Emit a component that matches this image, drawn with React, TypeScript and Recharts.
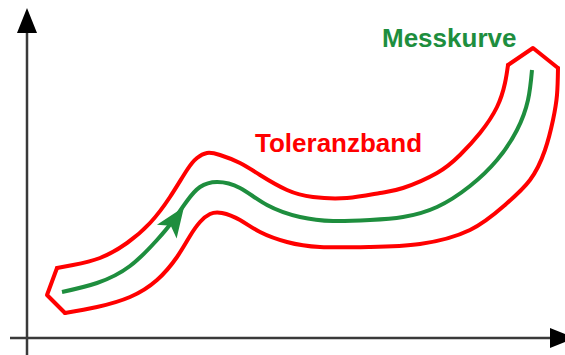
import { ComposedChart, Line, XAxis, YAxis, ReferenceLine, ReferenceDot } from "recharts"

// all points measured from the axis origin (x right, y up)
const messkurve = [
  { x: 35, y: 46 }, { x: 70, y: 55 }, { x: 103, y: 72 }, { x: 130, y: 98 },
  { x: 145, y: 116 }, { x: 160, y: 137 }, { x: 173, y: 151 }, { x: 190, y: 156 },
  { x: 213, y: 150 }, { x: 240, y: 133 }, { x: 273, y: 121 }, { x: 306, y: 117 },
  { x: 343, y: 118 }, { x: 376, y: 121 }, { x: 410, y: 131 }, { x: 443, y: 152 },
  { x: 470, y: 178 }, { x: 490, y: 208 }, { x: 501, y: 238 }, { x: 505, y: 268 },
]

const bandUpper = [
  { x: 30, y: 70 }, { x: 46, y: 73 }, { x: 73, y: 80 }, { x: 100, y: 95 },
  { x: 123, y: 115 }, { x: 143, y: 141 }, { x: 160, y: 168 }, { x: 170, y: 180 },
  { x: 180, y: 185 }, { x: 193, y: 183 }, { x: 213, y: 175 }, { x: 233, y: 163 },
  { x: 260, y: 148 }, { x: 286, y: 141 }, { x: 320, y: 140 }, { x: 353, y: 145 },
  { x: 376, y: 150 }, { x: 410, y: 165 }, { x: 433, y: 183 }, { x: 453, y: 205 },
  { x: 470, y: 231 }, { x: 478, y: 255 }, { x: 481, y: 273 },
]

const bandRightCap = [{ x: 481, y: 273 }, { x: 506, y: 290 }, { x: 531, y: 270 }]

const bandLower = [
  { x: 531, y: 270 }, { x: 530, y: 243 }, { x: 526, y: 218 }, { x: 518, y: 188 },
  { x: 503, y: 158 }, { x: 478, y: 133 }, { x: 443, y: 108 }, { x: 393, y: 94 },
  { x: 343, y: 91 }, { x: 293, y: 91 }, { x: 260, y: 96 }, { x: 233, y: 106 },
  { x: 213, y: 118 }, { x: 195, y: 125 }, { x: 183, y: 124 }, { x: 173, y: 116 },
  { x: 163, y: 102 }, { x: 150, y: 81 }, { x: 130, y: 58 }, { x: 103, y: 41 },
  { x: 70, y: 31 }, { x: 38, y: 25 },
]

const bandLeftCap = [{ x: 38, y: 25 }, { x: 20, y: 43 }, { x: 30, y: 70 }]

const arrowTip = { x: 157, y: 131 }

const RED = "#ff0000"
const GREEN = "#1e8e3e"
const AXIS = "#3a3a3a"

function AxisArrow(props: any) {
  const { x1, y1, x2, y2 } = props
  const ang = Math.atan2(y2 - y1, x2 - x1)
  const len = 25
  const hw = 10
  const bx = x2 - Math.cos(ang) * len
  const by = y2 - Math.sin(ang) * len
  const px = -Math.sin(ang) * hw
  const py = Math.cos(ang) * hw
  return (
    <g>
      <line x1={x1} y1={y1} x2={bx} y2={by} stroke={AXIS} strokeWidth={2.5} />
      <polygon points={`${x2},${y2} ${bx + px},${by + py} ${bx - px},${by - py}`} fill="#000" />
    </g>
  )
}

function CurveArrow(props: any) {
  const { cx, cy } = props
  return (
    <polygon
      points="0,0 -30,-12 -23,0 -30,12"
      fill={GREEN}
      transform={`translate(${cx},${cy}) rotate(-55)`}
    />
  )
}

const textStyle = { fontFamily: "'Liberation Sans', Arial, sans-serif", fontWeight: 700, fontSize: 26 }

export default function App() {
  return (
    <div style={{ position: "absolute", left: 0, top: 0, background: "#fff" }}>
      <ComposedChart width={565} height={355} margin={{ top: 10, right: 2, bottom: 17, left: 27 }}>
        <XAxis type="number" dataKey="x" domain={[0, 536]} allowDataOverflow hide />
        <YAxis type="number" dataKey="y" domain={[0, 328]} allowDataOverflow hide />
        <ReferenceLine segment={[{ x: -17, y: 0 }, { x: 548, y: 0 }]} ifOverflow="visible" shape={AxisArrow} />
        <ReferenceLine segment={[{ x: 0, y: -17 }, { x: 0, y: 330 }]} ifOverflow="visible" shape={AxisArrow} />
        <Line data={bandUpper} dataKey="y" type="natural" stroke={RED} strokeWidth={4} strokeLinecap="round" dot={false} isAnimationActive={false} />
        <Line data={bandRightCap} dataKey="y" type="linear" stroke={RED} strokeWidth={4} strokeLinecap="round" strokeLinejoin="round" dot={false} isAnimationActive={false} />
        <Line data={bandLower} dataKey="y" type="natural" stroke={RED} strokeWidth={4} strokeLinecap="round" dot={false} isAnimationActive={false} />
        <Line data={bandLeftCap} dataKey="y" type="linear" stroke={RED} strokeWidth={4} strokeLinecap="round" strokeLinejoin="round" dot={false} isAnimationActive={false} />
        <Line data={messkurve} dataKey="y" type="natural" stroke={GREEN} strokeWidth={4} dot={false} isAnimationActive={false} />
        <ReferenceDot x={arrowTip.x} y={arrowTip.y} ifOverflow="visible" shape={CurveArrow} />
        <ReferenceDot
          x={355}
          y={291}
          ifOverflow="visible"
          shape={(p: any) => <text x={p.cx} y={p.cy} fill={GREEN} style={textStyle}>Messkurve</text>}
        />
        <ReferenceDot
          x={228}
          y={186}
          ifOverflow="visible"
          shape={(p: any) => <text x={p.cx} y={p.cy} fill={RED} style={textStyle}>Toleranzband</text>}
        />
      </ComposedChart>
    </div>
  )
}
